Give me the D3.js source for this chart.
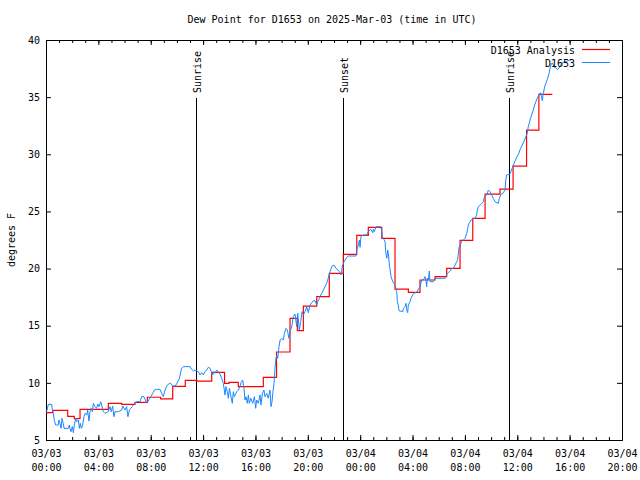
<!DOCTYPE html>
<html><head><meta charset="utf-8">
<script src="https://cdn.jsdelivr.net/npm/d3@7"></script>
<style>
body{margin:0;background:#fff}
svg{display:block}
text{font-family:"DejaVu Sans Mono","Liberation Mono",monospace;font-size:10px;fill:#000}
</style>
</head><body>
<svg id="chart" width="640" height="480"></svg>
<script>
// ---- data (hours after 2025-03-03 00:00 UTC, degrees F) ----
const analysisHours = [0,0.51,1.66,2.16,2.60,4.76,5.78,6.80,7.74,8.76,9.68,10.64,11.51,12.66,13.64,13.98,14.69,16.60,17.61,18.64,19.20,19.66,20.68,21.64,22.71,23.74,24.62,25.65,26.66,27.68,28.57,29.72,30.61,31.63,32.60,33.54,34.68,35.68,36.71,37.65,38.68];
const analysisValues = [7.39,7.60,7.07,6.87,7.68,8.21,8.12,8.30,8.74,8.59,9.70,10.22,10.16,10.92,9.96,10.05,9.67,10.48,12.70,15.65,14.57,16.72,17.55,19.58,21.25,22.91,23.61,22.65,18.21,17.92,19.00,19.29,20.02,22.47,24.40,26.52,26.95,28.97,32.12,35.24,35.24];

const obsHours = [0.05,0.18,0.43,0.48,0.56,0.64,0.74,0.94,0.99,1.07,1.15,1.22,1.32,1.38,1.71,1.78,1.83,1.91,2.01,2.09,2.16,2.27,2.34,2.47,2.55,2.62,2.70,2.80,2.90,2.98,3.11,3.18,3.28,3.36,3.44,3.54,3.62,3.74,3.87,3.95,4.05,4.18,4.25,4.38,4.51,4.76,4.89,4.99,5.09,5.19,5.27,5.53,5.78,5.86,6.04,6.16,6.26,6.37,6.47,6.60,6.75,6.93,7.18,7.31,7.49,7.64,7.74,7.87,8.02,8.15,8.28,8.45,8.71,8.84,8.96,9.09,9.22,9.35,9.52,9.68,9.85,9.98,10.19,10.36,10.49,11.00,11.13,11.26,11.38,11.64,11.76,11.89,12.02,12.15,12.27,12.40,12.53,12.63,12.73,12.83,12.91,13.04,13.29,13.42,13.55,13.67,13.75,13.85,13.93,14.01,14.11,14.23,14.31,14.39,14.57,14.69,14.82,14.90,15.02,15.13,15.20,15.28,15.38,15.46,15.53,15.64,15.79,15.92,16.02,16.09,16.22,16.35,16.42,16.53,16.65,16.73,16.86,16.98,17.11,17.19,17.27,17.32,17.42,17.49,17.57,17.62,17.70,17.80,17.88,18.00,18.13,18.21,18.33,18.44,18.56,18.64,18.77,18.89,19.02,19.10,19.15,19.23,19.35,19.46,19.56,19.66,19.79,19.92,20.04,20.17,20.30,20.42,20.55,20.68,20.76,20.88,20.99,21.06,21.19,21.31,21.44,21.52,21.70,21.85,22.00,22.15,22.31,22.46,22.54,22.64,22.77,22.97,23.10,23.68,23.74,23.86,23.94,23.99,24.06,24.24,24.50,24.62,24.81,24.96,25.00,25.08,25.21,25.57,25.65,25.69,25.84,25.90,25.95,26.03,26.10,26.15,26.23,26.36,26.49,26.66,26.74,26.79,26.84,26.91,26.97,27.25,27.30,27.43,27.50,27.56,27.63,27.68,27.81,27.88,28.01,28.11,28.37,28.44,28.57,28.70,28.83,28.95,29.03,29.08,29.13,29.21,29.28,29.34,29.59,29.72,30.48,30.56,30.66,30.81,30.99,31.12,31.25,31.37,31.45,31.55,31.63,31.76,31.88,32.01,32.14,32.22,32.26,32.34,32.52,32.77,32.90,32.95,33.03,33.28,33.41,33.46,33.54,33.71,33.79,33.92,34.05,34.17,34.30,34.55,34.63,34.76,34.89,35.07,35.12,35.19,35.45,35.60,35.86,36.12,36.25,36.50,36.76,36.84,37.01,37.22,37.33,37.52,37.65,37.78,37.91,37.99,38.09,38.30,38.43,38.50,38.60,38.68,38.81,39.07,39.19,39.32,39.45,39.65,39.88,40.10];
const obsValues = [7.48,8.12,8.12,7.68,7.33,6.69,6.31,6.31,6.75,6.46,6.02,6.90,6.46,6.02,6.02,6.31,6.02,5.73,6.17,5.64,6.31,6.90,6.60,6.75,6.02,6.46,6.02,6.31,7.04,7.33,7.19,7.62,6.66,7.48,7.77,7.48,8.21,7.92,7.77,8.15,7.92,8.35,8.06,7.48,7.33,7.48,7.92,7.48,7.97,7.04,7.48,7.48,7.62,7.97,7.62,7.92,7.04,7.62,7.77,7.92,8.21,8.35,8.35,8.79,8.79,8.35,8.27,8.56,8.79,9.08,9.37,9.43,9.43,9.08,8.79,9.37,9.72,9.90,9.96,9.72,9.72,9.90,10.40,11.27,11.42,11.42,11.18,11.04,11.12,10.98,10.69,10.89,10.69,10.98,11.12,11.36,11.27,10.98,10.69,10.98,10.83,11.12,10.77,10.40,9.96,8.94,9.67,9.23,8.65,9.52,8.94,8.21,9.23,8.79,9.23,9.37,9.67,10.02,10.25,9.43,8.50,8.79,8.21,8.94,8.21,8.65,8.21,8.79,7.77,8.50,8.21,8.94,8.06,9.08,9.37,8.79,9.08,8.65,9.37,7.92,8.40,9.08,9.96,11.27,12.15,12.44,12.15,13.16,13.75,13.89,13.75,14.33,14.77,14.62,13.89,14.48,14.91,15.79,16.02,15.35,14.91,16.08,14.62,15.35,16.23,15.94,16.23,16.66,16.14,16.81,17.01,17.19,17.19,16.81,17.10,17.40,17.69,17.83,18.12,18.41,18.71,19.00,19.73,20.22,20.31,20.02,19.87,19.64,19.44,20.22,20.60,20.98,21.10,21.10,21.62,22.06,22.50,21.86,22.79,22.94,22.94,23.23,23.43,23.14,23.43,23.23,23.66,23.66,23.23,22.79,22.50,22.35,21.48,20.90,21.62,21.33,20.31,19.29,18.85,18.56,18.18,17.98,17.10,16.81,16.31,16.23,16.52,16.66,16.96,16.37,16.14,16.81,17.10,17.40,17.69,17.83,17.98,18.18,18.41,19.00,19.00,19.29,19.00,18.41,19.15,19.00,19.79,18.85,18.85,19.15,19.15,19.35,19.58,19.73,19.99,20.02,20.31,20.60,20.81,21.86,22.06,22.35,22.50,22.65,23.08,23.52,23.81,24.01,24.31,24.40,24.69,25.12,25.41,25.70,25.85,26.14,26.28,26.58,26.87,26.72,26.43,26.14,25.85,25.70,26.14,26.52,26.58,26.87,27.75,28.19,28.27,28.77,29.50,30.08,30.52,31.10,31.83,32.41,33.15,33.87,34.31,34.90,35.18,35.39,34.69,35.30,35.91,36.56,37.08,37.52,37.90,38.00,37.67,37.43,37.55,37.80,38.01,38.10,38.19,38.25];

const eventNames = ["Sunrise","Sunset","Sunrise"];
const eventHours = [11.46, 22.69, 35.37];

const xTickHours = [0,4,8,12,16,20,24,28,32,36,40,44];
const xTickLabels = ["03/03 00:00","03/03 04:00","03/03 08:00","03/03 12:00","03/03 16:00","03/03 20:00","03/04 00:00","03/04 04:00","03/04 08:00","03/04 12:00","03/04 16:00","03/04 20:00"];
const yTicks = [5,10,15,20,25,30,35,40];
const seriesNames = ["D1653 Analysis","D1653"];
const seriesColors = ["#ff0000","#1a88ff"];
const titleText = "Dew Point for D1653 on 2025-Mar-03 (time in UTC)";
const yLabelText = "degrees F";

// ---- layout ----
const L = 46, R = 622, T = 40, B = 440;
const t0 = Date.UTC(2025, 2, 3, 0, 0);
const toDate = h => new Date(t0 + h * 3600e3);

const x = d3.scaleUtc().domain([toDate(0), toDate(44)]).range([L, R]);
const y = d3.scaleLinear().domain([5, 40]).range([B, T]);

const svg = d3.select("#chart");

const minorVals = d3.range(0, 45, 1).map(toDate);
const majorVals = xTickHours.map(toDate);

svg.append("g").attr("transform", `translate(0,${B})`)
  .call(d3.axisBottom(x).tickValues(minorVals).tickSize(-3).tickFormat(""))
  .call(g => g.select(".domain").remove());
svg.append("g").attr("transform", `translate(0,${T})`)
  .call(d3.axisTop(x).tickValues(minorVals).tickSize(-3).tickFormat(""))
  .call(g => g.select(".domain").remove());

const xb = svg.append("g").attr("transform", `translate(0,${B})`)
  .call(d3.axisBottom(x).tickValues(majorVals).tickSize(-5).tickFormat((d, i) => xTickLabels[i]))
  .call(g => g.select(".domain").remove());
xb.selectAll(".tick text").each(function(d, i) {
  const parts = xTickLabels[i].split(" ");
  const t = d3.select(this).text(null).attr("y", 0).attr("dy", null)
    .style("font-size", "10px").style("font-family", '"DejaVu Sans Mono",monospace');
  t.append("tspan").attr("x", 0).attr("y", 17).text(parts[0]);
  t.append("tspan").attr("x", 0).attr("y", 31).text(parts[1]);
});
svg.append("g").attr("transform", `translate(0,${T})`)
  .call(d3.axisTop(x).tickValues(majorVals).tickSize(-5).tickFormat(""))
  .call(g => g.select(".domain").remove());

svg.append("g").attr("transform", `translate(${L},0)`)
  .call(d3.axisLeft(y).tickValues(yTicks).tickSize(-5).tickPadding(6).tickFormat(d3.format("d")))
  .call(g => g.select(".domain").remove())
  .call(g => g.selectAll("text").style("font-size", "10px").style("font-family", '"DejaVu Sans Mono",monospace'));
svg.append("g").attr("transform", `translate(${R},0)`)
  .call(d3.axisRight(y).tickValues(yTicks).tickSize(-5).tickFormat(""))
  .call(g => g.select(".domain").remove());

svg.selectAll(".tick line").attr("stroke", "#000");

svg.append("rect").attr("x", L + 0.5).attr("y", T + 0.5)
  .attr("width", R - L).attr("height", B - T)
  .attr("fill", "none").attr("stroke", "#000").attr("stroke-width", 1);

eventHours.forEach((h, i) => {
  const ex = Math.round(x(toDate(h))) + 0.5;
  svg.append("line").attr("x1", ex).attr("x2", ex).attr("y1", 98).attr("y2", B)
    .attr("stroke", "#000").attr("stroke-width", 1);
  svg.append("text").attr("transform", `translate(${ex + 4.5},93) rotate(-90)`)
    .attr("text-anchor", "start").text(eventNames[i]);
});

const aData = analysisHours.map((h, i) => [toDate(h), analysisValues[i]]);
svg.append("path").datum(aData)
  .attr("fill", "none").attr("stroke", seriesColors[0]).attr("stroke-width", 1.2)
  .attr("d", d3.line().x(d => x(d[0])).y(d => y(d[1])).curve(d3.curveStepAfter));

const oData = obsHours.map((h, i) => [toDate(h), obsValues[i]]);
svg.append("path").datum(oData)
  .attr("fill", "none").attr("stroke", seriesColors[1]).attr("stroke-width", 1)
  .attr("stroke-linejoin", "round")
  .attr("d", d3.line().x(d => x(d[0])).y(d => y(d[1])));

seriesNames.forEach((n, i) => {
  const ly = 49.5 + i * 13;
  svg.append("text").attr("x", 575).attr("y", ly + 4.5).attr("text-anchor", "end").text(n);
  svg.append("line").attr("x1", 582).attr("x2", 610).attr("y1", ly).attr("y2", ly)
    .attr("stroke", seriesColors[i]).attr("stroke-width", i === 0 ? 1.2 : 1);
});

svg.append("text").attr("x", 332).attr("y", 23).attr("text-anchor", "middle").text(titleText);
svg.append("text").attr("transform", "translate(15,240) rotate(-90)")
  .attr("text-anchor", "middle").text(yLabelText);
</script>
</body></html>
